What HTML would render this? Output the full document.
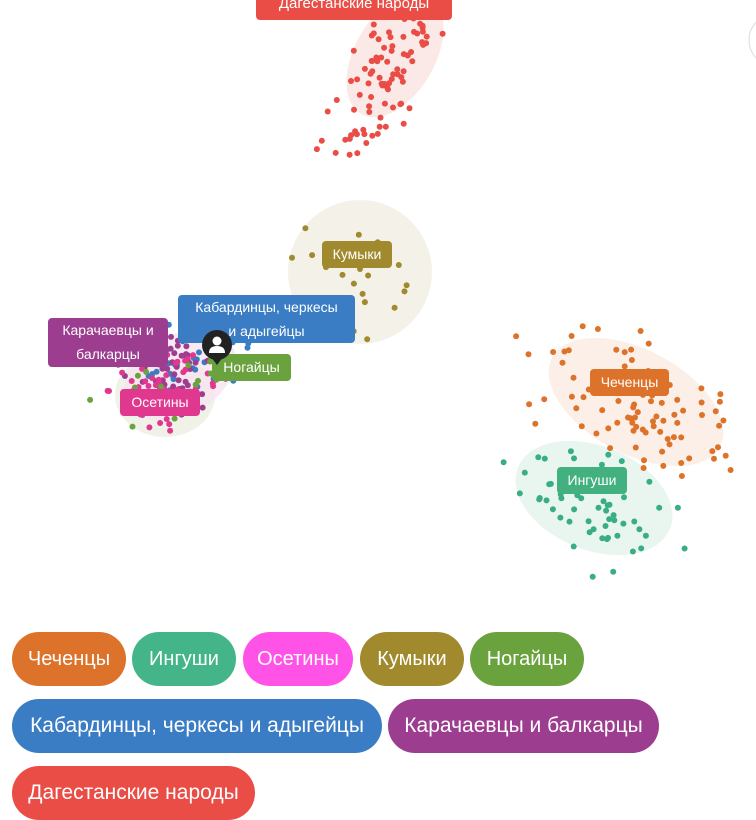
<!DOCTYPE html>
<html><head><meta charset="utf-8"><style>
body{margin:0;width:756px;height:815px;overflow:hidden;background:#fff;font-family:"Liberation Sans",sans-serif;position:relative}
svg{position:absolute;left:0;top:0}
.lb{position:absolute;color:#fff;font-size:14px;border-radius:4px;text-align:center;line-height:24px}
.pill{position:absolute;height:54px;border-radius:27px;color:#fff;font-size:20px;line-height:54px;text-align:center}
</style></head><body>
<svg id="s" width="756" height="815">
<ellipse cx="395" cy="55" rx="40" ry="68" transform="rotate(30 395 55)" fill="#fbe9e7"/>
<circle cx="360" cy="272" r="72" fill="#f4f1e9"/>
<ellipse cx="636" cy="402" rx="95" ry="52" transform="rotate(28 636 402)" fill="#fbefe7"/>
<ellipse cx="594" cy="498" rx="82" ry="52" transform="rotate(22 594 498)" fill="#e9f6f0"/>
<ellipse cx="165" cy="395" rx="50" ry="42" fill="#f0f2e8"/>
<ellipse cx="180" cy="375" rx="60" ry="40" transform="rotate(-30 180 375)" fill="#f8e4f0" opacity=".8"/>
<circle cx="775" cy="40" r="26" fill="#fff" stroke="#ddd"/>
<g id="d"></g>
</svg>
<div class="lb" style="left:256px;top:-12px;width:196px;height:32px;line-height:32px;background:#e94d45;font-size:15px">Дагестанские народы</div>
<div class="lb" style="left:322px;top:241px;width:70px;height:27px;line-height:27px;background:#a08a2d">Кумыки</div>
<div class="lb" style="left:178px;top:295px;width:177px;height:48px;background:#3a7dc4">Кабардинцы, черкесы<br>и адыгейцы</div>
<div class="lb" style="left:48px;top:318px;width:120px;height:49px;background:#9c3d8f">Карачаевцы и<br>балкарцы</div>
<div class="lb" style="left:212px;top:354px;width:79px;height:27px;line-height:27px;background:#6aa23e">Ногайцы</div>
<div class="lb" style="left:120px;top:389px;width:80px;height:27px;line-height:27px;background:#e0388e">Осетины</div>
<div class="lb" style="left:590px;top:369px;width:79px;height:27px;line-height:27px;background:#dd722b">Чеченцы</div>
<div class="lb" style="left:557px;top:467px;width:70px;height:27px;line-height:27px;background:#43b07f">Ингуши</div>
<svg style="left:201px;top:330px" width="32" height="36"><circle cx="16" cy="15" r="15" fill="#222"/><path d="M10 27 L16 35 L22 27Z" fill="#222"/><circle cx="16" cy="11" r="4.5" fill="#fff"/><path d="M8 23 Q8 16 16 16 Q24 16 24 23Z" fill="#fff"/></svg>
<div class="pill" style="left:12px;top:632px;width:114px;background:#dd722b">Чеченцы</div>
<div class="pill" style="left:132px;top:632px;width:104px;background:#43b588">Ингуши</div>
<div class="pill" style="left:243px;top:632px;width:110px;background:#ff52e6">Осетины</div>
<div class="pill" style="left:360px;top:632px;width:104px;background:#a08a2d">Кумыки</div>
<div class="pill" style="left:470px;top:632px;width:114px;background:#6aa23e">Ногайцы</div>
<div class="pill" style="left:12px;top:699px;width:370px;background:#3a7dc4;font-size:21px">Кабардинцы, черкесы и адыгейцы</div>
<div class="pill" style="left:388px;top:699px;width:271px;background:#9c3d8f;font-size:21px">Карачаевцы и балкарцы</div>
<div class="pill" style="left:12px;top:766px;width:243px;background:#e94d45;font-size:21px">Дагестанские народы</div>
<script>
var seed=7;function r(){seed=(seed*16807)%2147483647;return seed/2147483647;}
function g(){return (r()+r()+r()-1.5)/0.5;}
var g0=document.getElementById('d'),h='';
function cl(n,cx,cy,sx,sy,rot,c){var a=rot*Math.PI/180;for(var i=0;i<n;i++){var x=g()*sx,y=g()*sy;h+='<circle r="3" fill="'+c+'" cx="'+(cx+x*Math.cos(a)-y*Math.sin(a)).toFixed(1)+'" cy="'+(cy+x*Math.sin(a)+y*Math.cos(a)).toFixed(1)+'"/>';}}
cl(90,392,55,18,42,30,'#e94d45');
cl(12,345,140,18,8,-20,'#e94d45');
cl(20,360,275,30,28,0,'#a08a2d');
cl(90,640,405,55,28,28,'#dd722b');
cl(60,595,505,42,26,22,'#39ae84');
cl(60,190,355,30,18,-30,'#3a7dc4');
cl(60,175,365,25,20,-30,'#9c3d8f');
cl(50,165,380,25,22,-30,'#e0388e');
cl(20,175,385,35,25,-30,'#6aa23e');
g0.innerHTML=h;
</script>
</body></html>
